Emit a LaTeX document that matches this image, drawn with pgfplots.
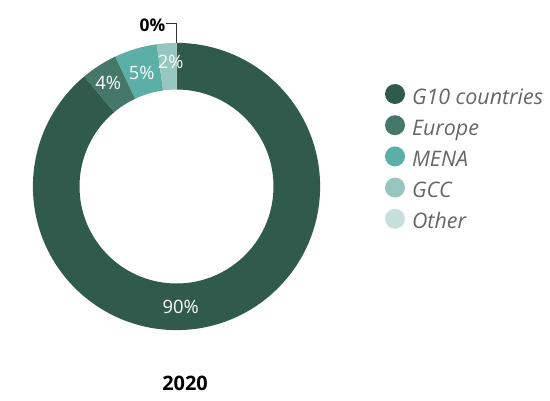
\documentclass[border=0pt]{standalone}
\usepackage{fontspec}
\setmainfont{Open Sans}
\usepackage{pgfplots}
\usepackage{pgfplotstable}
\pgfplotsset{compat=1.18}

\definecolor{cG}{HTML}{2F5A4C}
\definecolor{cE}{HTML}{46786A}
\definecolor{cM}{HTML}{5BAFA6}
\definecolor{cC}{HTML}{97C6C0}
\definecolor{cO}{HTML}{C6DFDB}
\definecolor{legtext}{HTML}{666666}

% share of each region, in %, clockwise from 12 o'clock
\pgfplotstableread{
region value col
G10    88.9  cG
Europe 4.1   cE
MENA   4.8   cM
GCC    2.2   cC
Other  0.0   cO
}\shares

\begin{document}
\begin{tikzpicture}
\begin{axis}[
  width=550bp, height=400bp, scale only axis,
  xmin=0, xmax=550, ymin=0, ymax=400,
  hide axis, clip=false,
  legend image code/.code={\fill[#1] (10bp,5bp) circle[radius=10bp];},
  legend cell align=left,
  legend style={draw=none, fill=none, at={(axis cs:385,316)}, anchor=north west,
    inner sep=0pt, outer sep=0pt, row sep=6.2bp, column sep=7bp,
    font=\fontsize{21.5}{24}\selectfont\itshape, text=legtext,
    nodes={inner sep=0pt, text height=15bp, text depth=5bp}},
]
\path (rel axis cs:0,0) rectangle (rel axis cs:1,1);

\pgfplotsextra{
  \gdef\acc{0}
  \pgfplotstablegetrowsof{\shares}
  \pgfmathtruncatemacro\last{\pgfplotsretval-1}
  \foreach \i in {0,...,\last}{
    \pgfplotstablegetelem{\i}{value}\of\shares \let\v\pgfplotsretval
    \pgfplotstablegetelem{\i}{col}\of\shares \let\segcol\pgfplotsretval
    \pgfmathsetmacro\sa{90-3.6*\acc}
    \pgfmathsetmacro\ea{90-3.6*(\acc+\v)}
    \fill[fill=\segcol] (axis cs:176.5,213.5) ++(\sa:143.6bp)
      arc[start angle=\sa, end angle=\ea, radius=143.6bp]
      -- ++(\ea:-46.6bp)
      arc[start angle=\ea, end angle=\sa, radius=97bp] -- cycle;
    \pgfmathsetmacro\nacc{\acc+\v}
    \global\let\acc\nacc
  }
}

\begin{scope}[every node/.style={text=white, font=\fontsize{18.5}{20}\selectfont}]
\node at (axis cs:180.7,93.3) {90\%};
\node at (axis cs:108.3,316.7) {4\%};
\node at (axis cs:141.7,327.3) {5\%};
\node at (axis cs:170.7,337.7) {2\%};
\end{scope}

\draw[black!80, line width=1bp] (axis cs:176.5,356.7) -- (axis cs:176.5,376) -- (axis cs:166,376);
\node[anchor=east, inner sep=0pt, font=\fontsize{17.5}{20}\selectfont\bfseries] at (axis cs:165.5,375) {0\%};

\node[font=\fontsize{20}{24}\selectfont\bfseries] at (axis cs:185,17) {2020};

\addlegendimage{fill=cG, draw=none}
\addlegendimage{fill=cE, draw=none}
\addlegendimage{fill=cM, draw=none}
\addlegendimage{fill=cC, draw=none}
\addlegendimage{fill=cO, draw=none}
\legend{G10 countries, Europe, MENA, GCC, Other}
\end{axis}
\end{tikzpicture}
\end{document}
